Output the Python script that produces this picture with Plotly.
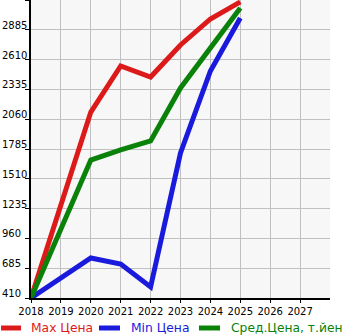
import plotly.graph_objects as go

years = [2018, 2020, 2021, 2022, 2023, 2024, 2025]
max_price = [410, 2126, 2551, 2449, 2745, 2985, 3142]
min_price = [410, 779, 724, 512, 1748, 2505, 2994]
avg_price = [410, 1683, 1776, 1859, 2348, 2717, 3086]
y_ticks = [410, 685, 960, 1235, 1510, 1785, 2060, 2335, 2610, 2885]
x_ticks = list(range(2018, 2028))
series_names = ["Max Цена", "Min Цена", "Сред.Цена, т.йен"]

RED = "#dd1a1a"
BLUE = "#1a1add"
GREEN = "#0a820a"
colors = [RED, BLUE, GREEN]

L, R, T, B = 31, 15, 0, 37
W, H = 345, 335
PW, PH = W - L - R, H - T - B


def px(x):
    return (x - L) / PW


def py(y):
    return (H - B - y) / PH


fig = go.Figure()
for name, vals, col in zip(series_names, [max_price, min_price, avg_price], colors):
    fig.add_trace(go.Scatter(x=years, y=vals, mode="lines",
                             line=dict(color=col, width=5), name=name))

for v in y_ticks:
    fig.add_annotation(x=px(0), xref="paper", y=v, yref="y", text=str(v),
                       showarrow=False, xanchor="left", yanchor="bottom",
                       font=dict(family="DejaVu Sans", size=10, color="black"), yshift=-3)

# legend drawn in paper space
leg_y = 328
line_x = [(1, 21), (99, 120), (199, 220)]
text_x = [29, 129, 229]
for name, col, (a, b), tx in zip(series_names, colors, line_x, text_x):
    fig.add_shape(type="line", xref="paper", yref="paper", x0=px(a), x1=px(b),
                  y0=py(leg_y), y1=py(leg_y), line=dict(color=col, width=5))
    fig.add_annotation(x=px(tx), xref="paper", y=py(leg_y), yref="paper", text=name,
                       showarrow=False, xanchor="left", yanchor="middle",
                       font=dict(family="DejaVu Sans", size=12.3, color=col))

fig.update_layout(
    width=W, height=H,
    margin=dict(l=L, r=R, t=T, b=B),
    paper_bgcolor="white", plot_bgcolor="#f7f7f7",
    font=dict(family="DejaVu Sans", size=10, color="black"),
    showlegend=False,
    xaxis=dict(range=[2018, 2028], tickvals=x_ticks, showgrid=True, gridcolor="#c0c0c0",
               gridwidth=1, showline=True, linecolor="black", linewidth=2,
               ticks="outside", ticklen=3, tickcolor="black", zeroline=False,
               tickfont=dict(size=10)),
    yaxis=dict(range=[410, 3160], tickvals=y_ticks + [3160], showticklabels=False,
               showgrid=True, gridcolor="#c0c0c0", gridwidth=1, showline=True,
               linecolor="black", linewidth=2, ticks="outside", ticklen=4,
               tickcolor="black", zeroline=False),
)

fig.write_html("out.html")
